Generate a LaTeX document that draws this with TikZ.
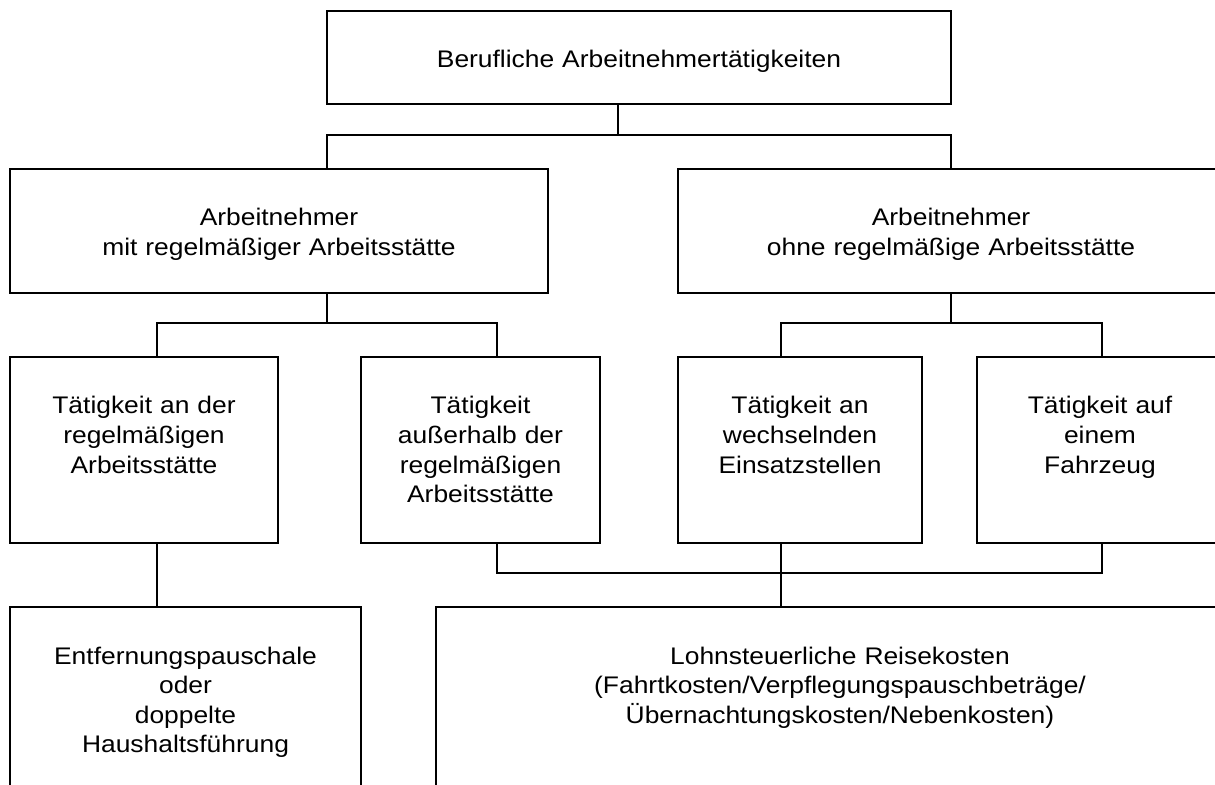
\documentclass[tikz,border=0pt]{standalone}
\usepackage{fontspec}
\setmainfont{Liberation Sans}[FakeStretch=1.1]

\tikzset{
  kasten/.style={draw, line width=1pt, anchor=north, align=center, inner sep=0pt,
    font=\fontsize{12pt}{14.8pt}\selectfont, text height=28.5pt},
}

\begin{document}
\begin{tikzpicture}[x=0.5pt, y=-0.5pt, line width=1pt]

\useasboundingbox (0,0) rectangle (1215,785);
\clip (0,0) rectangle (1215,785);

\node[kasten, text width=312pt, text depth=18pt] (beruf) at (639,10) {Berufliche Arbeitnehmertätigkeiten};

\node[kasten, text width=269pt, text depth=33.5pt] (mitras) at (279,168) {Arbeitnehmer\\mit regelmäßiger Arbeitsstätte};
\node[kasten, text width=273pt, text depth=33.5pt] (ohneras) at (951,168) {Arbeitnehmer\\ohne regelmäßige Arbeitsstätte};

\node[kasten, text width=134pt, text depth=64.5pt] (amort) at (144,356) {Tätigkeit an der\\regelmäßigen\\Arbeitsstätte};
\node[kasten, text width=119.5pt, text depth=64.5pt] (ausser) at (480.5,356) {Tätigkeit\\außerhalb der\\regelmäßigen\\Arbeitsstätte};
\node[kasten, text width=122pt, text depth=64.5pt] (wechsel) at (800,356) {Tätigkeit an\\wechselnden\\Einsatzstellen};
\node[kasten, text width=123pt, text depth=64.5pt] (fahrzeug) at (1100,356) {Tätigkeit auf\\einem\\Fahrzeug};

\node[kasten, text width=175.5pt, text depth=100pt] (entf) at (185.5,606) {Entfernungspauschale\\oder\\doppelte\\Haushaltsführung};
\node[kasten, text width=404pt, text depth=100pt] (reise) at (840,606) {Lohnsteuerliche Reisekosten\\(Fahrtkosten/Verpflegungspauschbeträge/\\Übernachtungskosten/Nebenkosten)};

\coordinate (topjoin) at (618,135);
\coordinate (mitjoin) at (327,323);
\coordinate (ohnejoin) at (951,323);
\coordinate (reisejoin) at (781,573);
\coordinate (amortline) at (157,323);
\coordinate (ausserline) at (497,323);
\coordinate (fahrline) at (1102,323);

\draw (topjoin |- beruf.south) -- (topjoin);
\draw (mitras.north -| mitjoin) |- (topjoin) -| (ohneras.north);

\draw (mitjoin |- mitras.south) -- (mitjoin);
\draw (amort.north -| amortline) -- (amortline) -- (ausserline) -- (ausser.north -| ausserline);
\draw (ohneras.south) -- (ohnejoin);
\draw (wechsel.north -| reisejoin) |- (ohnejoin) -| (fahrzeug.north -| fahrline);

\draw (amort.south -| amortline) -- (entf.north -| amortline);
\draw (ausser.south -| ausserline) |- (reisejoin) -| (fahrzeug.south -| fahrline);
\draw (wechsel.south -| reisejoin) -- (reise.north -| reisejoin);

\end{tikzpicture}
\end{document}
